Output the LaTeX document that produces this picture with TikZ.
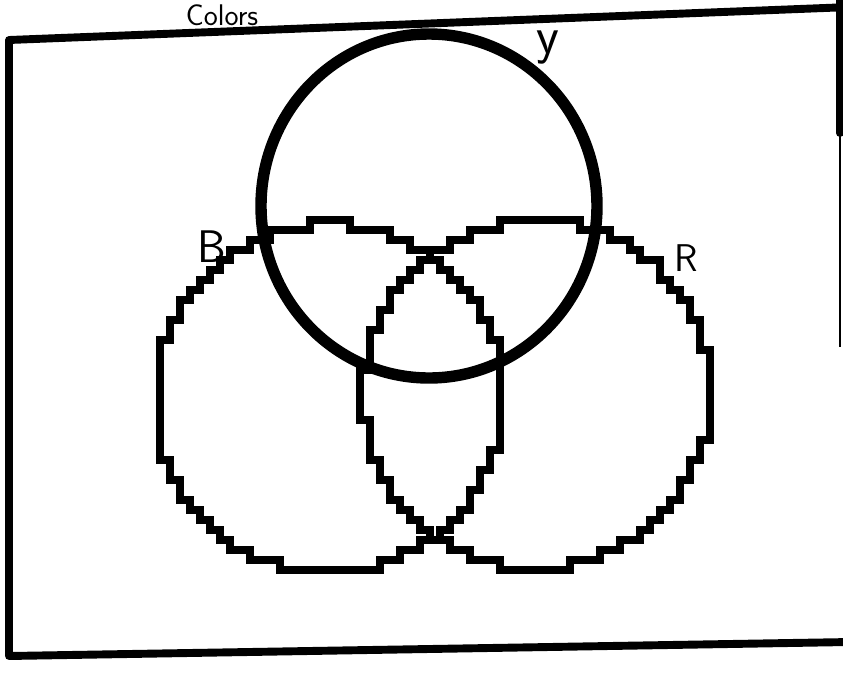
\documentclass[tikz,border=0pt]{standalone}
\usepackage{tikz}
\usetikzlibrary{positioning}
\tikzset{
  frame/.style={line width=4.5pt, line cap=round, line join=round},
  ring/.style={line width=6.5pt},
  stairs/.style={line width=4.8pt, line join=miter},
  lbl/.style={font=\fontsize{26}{30}\selectfont\sffamily, inner sep=0pt},
}
\begin{document}
\begin{tikzpicture}[x=0.02cm, y=-0.02cm]
  \clip (0,0) rectangle (843,684);
  % frame
  \draw[frame] (850,7) -- (9,40) -- (9,656) -- (850,642);
  \draw[frame] (840,0) -- (840,133);
  \draw[line width=1pt] (840,133) -- (840,347);
  % Y ring
  \draw[ring] (429,206) ellipse [x radius=168, y radius=172];
  % B and R rings, drawn in steps
  \foreach \cx/\cy in {329/398, 537/394}
    \draw[stairs] plot[const plot, domain=0:360, samples=361]
      ({round((\cx+174*cos(\x))/10)*10}, {round((\cy+174*sin(\x))/10)*10});
  \node[lbl, font=\fontsize{17}{20}\selectfont\sffamily, anchor=base] (colors) at (222,25) {Colors};
  \node[lbl] (blbl) at (212,247) {B};
  \node[lbl, font=\fontsize{22}{26}\selectfont\sffamily] (rlbl) at (686,258) {R};
  \node[lbl, font=\fontsize{30}{34}\selectfont\sffamily] (ylbl) at (548,48) {y};
\end{tikzpicture}
\end{document}
